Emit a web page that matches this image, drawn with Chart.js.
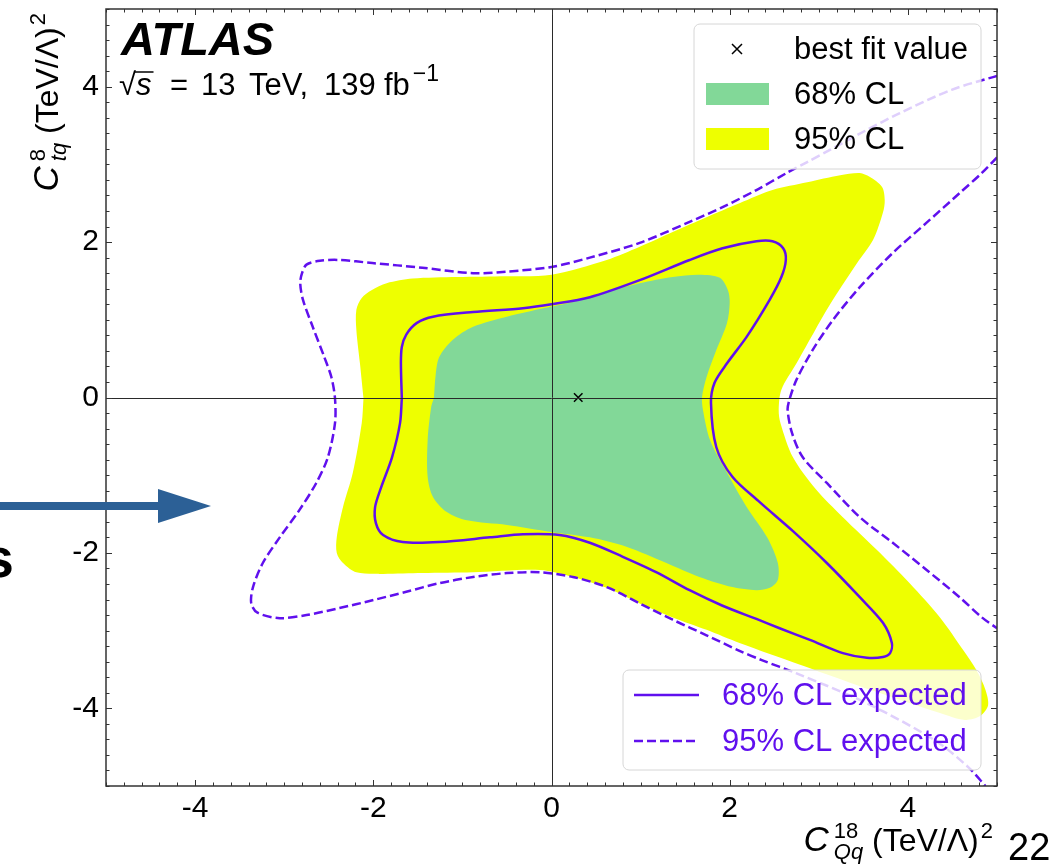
<!DOCTYPE html>
<html>
<head>
<meta charset="utf-8">
<script src="https://cdn.jsdelivr.net/npm/chart.js@4.4.1/dist/chart.umd.min.js"></script>
<style>
  html, body { margin: 0; padding: 0; background: #fff; }
  #wrap { width: 1062px; height: 867px; }
</style>
</head>
<body>
<div id="wrap"><canvas id="contour" width="1062" height="867"></canvas></div>
<script>
// Contour points [C_Qq^18, C_tq^8]
const obs95 = [
  [-2.11, -0.01], [-2.15, 0.44], [-2.19, 0.87], [-2.19, 1.13], [-2.13, 1.28], [-2.02, 1.38],
  [-1.85, 1.47], [-1.56, 1.53], [-1.06, 1.55], [-0.50, 1.56], [0.00, 1.58], [0.62, 1.77],
  [0.99, 1.94], [1.36, 2.13], [1.74, 2.32], [2.11, 2.50], [2.48, 2.67], [2.87, 2.77],
  [3.24, 2.86], [3.46, 2.89], [3.57, 2.84], [3.71, 2.71], [3.74, 2.54], [3.72, 2.38],
  [3.61, 2.03], [3.43, 1.73], [3.16, 1.26], [2.96, 0.87], [2.75, 0.44], [2.58, 0.10],
  [2.55, -0.16], [2.57, -0.33], [2.71, -0.77], [2.96, -1.17], [3.27, -1.54], [3.65, -1.96],
  [4.02, -2.39], [4.36, -2.83], [4.62, -3.25], [4.77, -3.51], [4.87, -3.76], [4.90, -3.96],
  [4.81, -4.10], [4.64, -4.15], [4.36, -4.06], [3.91, -3.89], [3.35, -3.67], [2.79, -3.44],
  [2.11, -3.16], [1.74, -2.99], [1.36, -2.83], [0.99, -2.65], [0.62, -2.45], [0.24, -2.31],
  [-0.13, -2.22], [-0.88, -2.25], [-1.45, -2.26], [-1.93, -2.27], [-2.19, -2.25], [-2.34, -2.13],
  [-2.41, -2.00], [-2.41, -1.80], [-2.34, -1.41], [-2.23, -0.97], [-2.13, -0.33]
];

const obs68 = [
  [-1.32, -0.01], [-1.30, 0.29], [-1.26, 0.52], [-1.11, 0.74], [-0.88, 0.91], [-0.50, 1.04],
  [0.00, 1.17], [0.24, 1.23], [0.62, 1.36], [0.99, 1.47], [1.36, 1.55], [1.66, 1.58],
  [1.89, 1.54], [1.98, 1.38], [2.00, 1.22], [1.97, 0.96], [1.85, 0.61], [1.74, 0.26],
  [1.69, 0.01], [1.70, -0.16], [1.78, -0.55], [1.97, -0.97], [2.19, -1.41], [2.42, -1.80],
  [2.54, -2.13], [2.54, -2.35], [2.45, -2.45], [2.30, -2.48], [2.03, -2.44], [1.66, -2.31],
  [1.29, -2.13], [0.84, -1.92], [0.43, -1.80], [0.00, -1.73], [-0.50, -1.64], [-0.95, -1.58],
  [-1.18, -1.47], [-1.33, -1.28], [-1.39, -1.02], [-1.39, -0.55], [-1.35, -0.12]
];

const exp68 = [
  [-1.68, -0.01], [-1.69, 0.44], [-1.68, 0.65], [-1.63, 0.81], [-1.51, 0.96], [-1.33, 1.04],
  [-0.88, 1.10], [-0.32, 1.15], [0.00, 1.20], [0.43, 1.29], [0.99, 1.51], [1.55, 1.77],
  [1.92, 1.92], [2.30, 2.01], [2.48, 2.01], [2.60, 1.92], [2.63, 1.77], [2.58, 1.55],
  [2.45, 1.26], [2.19, 0.78], [1.97, 0.44], [1.83, 0.19], [1.79, -0.07], [1.85, -0.64],
  [2.03, -1.02], [2.34, -1.35], [2.71, -1.72], [3.09, -2.13], [3.46, -2.57], [3.72, -2.90],
  [3.82, -3.16], [3.80, -3.29], [3.72, -3.34], [3.54, -3.35], [3.27, -3.29], [2.90, -3.12],
  [2.56, -2.97], [2.30, -2.85], [1.92, -2.68], [1.55, -2.48], [1.18, -2.25], [0.80, -2.05],
  [0.43, -1.87], [0.09, -1.77], [-0.32, -1.76], [-0.69, -1.80], [-1.26, -1.86], [-1.67, -1.86],
  [-1.89, -1.77], [-1.97, -1.62], [-1.98, -1.41], [-1.91, -1.15], [-1.79, -0.77], [-1.70, -0.33]
];

// expected 95% contour: main branch (leaves through top-right and bottom edges)
const exp95Main = [
  [5.00, 4.14], [4.49, 3.96], [3.91, 3.66], [3.50, 3.42], [3.13, 3.19], [2.87, 3.03],
  [2.64, 2.89], [2.30, 2.67], [1.92, 2.45], [1.55, 2.26], [0.99, 1.99], [0.43, 1.80],
  [0.00, 1.68], [-0.50, 1.62], [-0.88, 1.60], [-1.45, 1.67], [-2.01, 1.73], [-2.38, 1.77],
  [-2.60, 1.76], [-2.75, 1.71], [-2.80, 1.60], [-2.82, 1.47], [-2.79, 1.26], [-2.68, 0.91],
  [-2.55, 0.52], [-2.47, 0.26], [-2.43, -0.01], [-2.43, -0.33], [-2.51, -0.77], [-2.64, -1.10],
  [-2.83, -1.45], [-3.05, -1.80], [-3.24, -2.13], [-3.35, -2.44], [-3.37, -2.65], [-3.30, -2.77],
  [-3.05, -2.84], [-2.75, -2.80], [-2.38, -2.71], [-2.01, -2.61], [-1.63, -2.50], [-1.26, -2.39],
  [-0.88, -2.31], [-0.50, -2.26], [-0.13, -2.25], [0.24, -2.31], [0.62, -2.44], [0.99, -2.65],
  [1.36, -2.86], [1.74, -3.06], [2.11, -3.26], [2.36, -3.38], [2.75, -3.55], [3.53, -3.93],
  [4.30, -4.41], [4.68, -4.76], [4.87, -5.00]
];

// expected 95% contour: right-hand branch
const exp95Right = [
  [5.00, 3.09], [4.83, 2.89], [4.58, 2.63], [4.21, 2.25], [3.83, 1.86], [3.46, 1.42],
  [3.16, 1.00], [2.93, 0.61], [2.75, 0.23], [2.67, -0.03], [2.65, -0.16], [2.70, -0.46],
  [2.82, -0.77], [3.09, -1.10], [3.46, -1.54], [3.83, -1.87], [4.21, -2.22], [4.58, -2.57],
  [4.83, -2.83], [5.00, -2.97]
];

const bestFitX = [0.30];
const bestFitY = [0.00];

const axisMin = -5;
const axisMax = 5;
const majorStep = 2;
const minorStep = 0.2;

const GREEN = '#82d898';
const YELLOW = '#eeff00';
const PURPLE = '#6010ee';
const FONT = '"Liberation Sans", Arial, Helvetica, sans-serif';

const toXY = arr => arr.map(p => ({ x: p[0], y: p[1] }));
const closed = arr => toXY(arr.concat([arr[0]]));
const isMajor = v => Math.abs(v / majorStep - Math.round(v / majorStep)) < 1e-6;

function setFont(ctx, r, size) {
  const px = Math.round(size * (r.s || 1));
  ctx.font = (r.it ? 'italic ' : '') + px + 'px ' + FONT;
}

// lay out a run of text pieces (with super/subscripts) along a baseline
function layoutRuns(ctx, runs, size) {
  let x = 0;
  const items = [];
  runs.forEach(r => {
    if (r.gap) { x += r.gap; return; }
    if (r.stack) {
      let w = 0;
      r.stack.forEach(q => {
        setFont(ctx, q, size);
        items.push(Object.assign({}, q, { x }));
        w = Math.max(w, ctx.measureText(q.t).width);
      });
      x += w;
    } else {
      setFont(ctx, r, size);
      items.push(Object.assign({}, r, { x }));
      x += ctx.measureText(r.t).width;
    }
  });
  return { items, width: x };
}

function drawRuns(ctx, lay, size) {
  lay.items.forEach(it => {
    setFont(ctx, it, size);
    ctx.fillText(it.t, it.x, -(it.dy || 0) * size);
  });
}

const sup = t => ({ t, s: 0.7, dy: 0.42 });
const sub = (t, it) => ({ t, s: 0.7, dy: -0.24, it });

const xLabelRuns = [
  { t: 'C', it: true, s: 1.08 }, { gap: 5 },
  { stack: [sup('18'), sub('Qq', true)] },
  { t: ' (TeV/Λ)' }, { gap: 2 },
  sup('2')
];
const yLabelRuns = [
  { t: 'C', it: true, s: 1.08 }, { gap: 5 },
  { stack: [sup('8'), sub('tq', true)] },
  { t: ' (TeV/Λ)' }, { gap: 2 },
  sup('2')
];

// inward tick marks on all four sides, zero lines and frame
const framePlugin = {
  id: 'framePlugin',
  afterDatasetsDraw(chart) {
    const { ctx, chartArea: a, scales: { x, y } } = chart;
    ctx.save();
    ctx.strokeStyle = '#2a2a2a';
    ctx.lineWidth = 1;
    const x0 = Math.round(x.getPixelForValue(0)) + 0.5;
    const y0 = Math.round(y.getPixelForValue(0)) + 0.5;
    ctx.beginPath();
    ctx.moveTo(x0, a.top); ctx.lineTo(x0, a.bottom);
    ctx.moveTo(a.left, y0); ctx.lineTo(a.right, y0);
    ctx.stroke();

    ctx.strokeStyle = '#333';
    ctx.beginPath();
    x.ticks.forEach(t => {
      const px = Math.round(x.getPixelForValue(t.value)) + 0.5;
      const len = isMajor(t.value) ? 6 : 3.5;
      ctx.moveTo(px, a.bottom); ctx.lineTo(px, a.bottom - len);
      ctx.moveTo(px, a.top); ctx.lineTo(px, a.top + len);
    });
    y.ticks.forEach(t => {
      const py = Math.round(y.getPixelForValue(t.value)) + 0.5;
      const len = isMajor(t.value) ? 6 : 3.5;
      ctx.moveTo(a.left, py); ctx.lineTo(a.left + len, py);
      ctx.moveTo(a.right, py); ctx.lineTo(a.right - len, py);
    });
    ctx.stroke();

    ctx.lineWidth = 1.5;
    ctx.strokeRect(a.left, a.top, a.right - a.left, a.bottom - a.top);
    ctx.restore();
  }
};

function legendBox(ctx, x, y, w, h) {
  ctx.beginPath();
  ctx.roundRect(x, y, w, h, 6);
  ctx.fillStyle = 'rgba(255,255,255,0.8)';
  ctx.fill();
  ctx.strokeStyle = '#d6d6d6';
  ctx.lineWidth = 1;
  ctx.stroke();
}

function cross(ctx, cx, cy, r) {
  ctx.beginPath();
  ctx.moveTo(cx - r, cy - r); ctx.lineTo(cx + r, cy + r);
  ctx.moveTo(cx - r, cy + r); ctx.lineTo(cx + r, cy - r);
  ctx.stroke();
}

// legends, axis titles, labels and the slide arrow
const decorPlugin = {
  id: 'decorPlugin',
  afterDraw(chart) {
    const { ctx, chartArea: a } = chart;
    ctx.save();
    ctx.textAlign = 'left';

    // top legend
    legendBox(ctx, 694, 24, 287, 145);
    ctx.strokeStyle = '#000';
    ctx.lineWidth = 1.5;
    cross(ctx, 737, 49, 5);
    ctx.fillStyle = GREEN;
    ctx.fillRect(706, 83, 63, 22);
    ctx.fillStyle = YELLOW;
    ctx.fillRect(706, 128, 63, 22);
    ctx.fillStyle = '#000';
    ctx.font = '31px ' + FONT;
    ctx.textBaseline = 'middle';
    ctx.fillText('best fit value', 794, 50);
    ctx.fillText('68% CL', 794, 95);
    ctx.fillText('95% CL', 794, 140);

    // bottom legend
    legendBox(ctx, 623, 670, 358, 100);
    ctx.strokeStyle = PURPLE;
    ctx.lineWidth = 2.5;
    ctx.beginPath();
    ctx.moveTo(634, 695); ctx.lineTo(699, 695);
    ctx.stroke();
    ctx.setLineDash([9, 4]);
    ctx.beginPath();
    ctx.moveTo(634, 741); ctx.lineTo(699, 741);
    ctx.stroke();
    ctx.setLineDash([]);
    ctx.fillStyle = PURPLE;
    ctx.fillText('68% CL expected', 722, 696);
    ctx.fillText('95% CL expected', 722, 742);

    // experiment label
    ctx.textBaseline = 'alphabetic';
    ctx.fillStyle = '#000';
    ctx.font = 'italic bold 47px ' + FONT;
    ctx.fillText('ATLAS', 121, 55);
    ctx.font = '31px ' + FONT;
    ctx.fillText('√', 119, 95);
    const rw = ctx.measureText('√').width;
    ctx.font = 'italic 31px ' + FONT;
    ctx.fillText('s', 119 + rw, 95);
    const sw = ctx.measureText('s').width;
    ctx.lineWidth = 1.5;
    ctx.strokeStyle = '#000';
    ctx.beginPath();
    ctx.moveTo(119 + rw - 1, 72); ctx.lineTo(119 + rw + sw + 2, 72);
    ctx.stroke();
    ctx.font = '31px ' + FONT;
    ctx.fillText('=', 170, 95);
    ctx.fillText('13', 201, 95);
    ctx.fillText('TeV,', 249, 95);
    ctx.fillText('139', 324, 95);
    ctx.fillText('fb', 384, 95);
    const fbW = ctx.measureText('fb').width;
    ctx.font = '23px ' + FONT;
    ctx.fillText('−1', 384 + fbW + 3, 81);

    // x axis title, right aligned to the frame
    const xl = layoutRuns(ctx, xLabelRuns, 32);
    ctx.save();
    ctx.translate(a.right - 4 - xl.width, 851);
    drawRuns(ctx, xl, 32);
    ctx.restore();

    // y axis title, rotated, aligned to the top of the frame
    const yl = layoutRuns(ctx, yLabelRuns, 32);
    ctx.save();
    ctx.translate(58, a.top + 4 + yl.width);
    ctx.rotate(-Math.PI / 2);
    drawRuns(ctx, yl, 32);
    ctx.restore();

    // page number
    ctx.font = '38px ' + FONT;
    ctx.fillText('22', 1008, 860);

    // slide arrow and clipped word
    ctx.fillStyle = '#2c6096';
    ctx.fillRect(0, 502, 160, 8);
    ctx.beginPath();
    ctx.moveTo(158, 489); ctx.lineTo(211, 506); ctx.lineTo(158, 523);
    ctx.closePath();
    ctx.fill();
    ctx.fillStyle = '#000';
    ctx.font = 'bold 56px ' + FONT;
    ctx.textAlign = 'right';
    ctx.fillText('s', 14, 577);
    ctx.restore();
  }
};

const tickFont = { family: FONT, size: 30 };
const tickLabel = v => (isMajor(v) && Math.abs(v) < axisMax ? String(Math.round(v)) : '');

new Chart(document.getElementById('contour'), {
  type: 'scatter',
  data: {
    datasets: [
      {
        label: 'best fit value',
        data: bestFitX.map((x, i) => ({ x, y: bestFitY[i] })),
        pointStyle: 'crossRot',
        pointRadius: 6,
        borderColor: '#000',
        borderWidth: 1.5,
        order: 0
      },
      {
        label: '95% CL expected',
        data: toXY(exp95Main),
        showLine: true,
        borderColor: PURPLE,
        borderWidth: 2.5,
        borderDash: [9, 4],
        pointRadius: 0,
        tension: 0.3,
        fill: false,
        order: 1
      },
      {
        label: '95% CL expected (right)',
        data: toXY(exp95Right),
        showLine: true,
        borderColor: PURPLE,
        borderWidth: 2.5,
        borderDash: [9, 4],
        pointRadius: 0,
        tension: 0.3,
        fill: false,
        order: 2
      },
      {
        label: '68% CL expected',
        data: closed(exp68),
        showLine: true,
        borderColor: PURPLE,
        borderWidth: 2.5,
        pointRadius: 0,
        tension: 0.3,
        fill: false,
        order: 3
      },
      {
        label: '68% CL',
        data: closed(obs68),
        showLine: true,
        borderColor: 'rgba(0,0,0,0)',
        borderWidth: 0,
        backgroundColor: GREEN,
        pointRadius: 0,
        tension: 0.3,
        fill: 'shape',
        order: 4
      },
      {
        label: '95% CL',
        data: closed(obs95),
        showLine: true,
        borderColor: 'rgba(0,0,0,0)',
        borderWidth: 0,
        backgroundColor: YELLOW,
        pointRadius: 0,
        tension: 0.3,
        fill: 'shape',
        order: 5
      }
    ]
  },
  options: {
    responsive: false,
    animation: false,
    layout: { padding: { top: 9, right: 65, left: 0, bottom: 0 } },
    plugins: {
      legend: { display: false },
      tooltip: { enabled: false }
    },
    scales: {
      x: {
        type: 'linear',
        min: axisMin,
        max: axisMax,
        grid: { display: false, drawTicks: false },
        border: { display: false },
        ticks: {
          stepSize: minorStep,
          autoSkip: false,
          maxRotation: 0,
          padding: 5,
          color: '#000',
          font: tickFont,
          callback: tickLabel
        },
        afterFit: s => { s.height = 81; s.paddingLeft = 0; s.paddingRight = 0; }
      },
      y: {
        type: 'linear',
        min: axisMin,
        max: axisMax,
        grid: { display: false, drawTicks: false },
        border: { display: false },
        ticks: {
          stepSize: minorStep,
          autoSkip: false,
          padding: 7,
          color: '#000',
          font: tickFont,
          callback: tickLabel
        },
        afterFit: s => { s.width = 106; s.paddingTop = 0; s.paddingBottom = 0; }
      }
    }
  },
  plugins: [framePlugin, decorPlugin]
});
</script>
</body>
</html>
